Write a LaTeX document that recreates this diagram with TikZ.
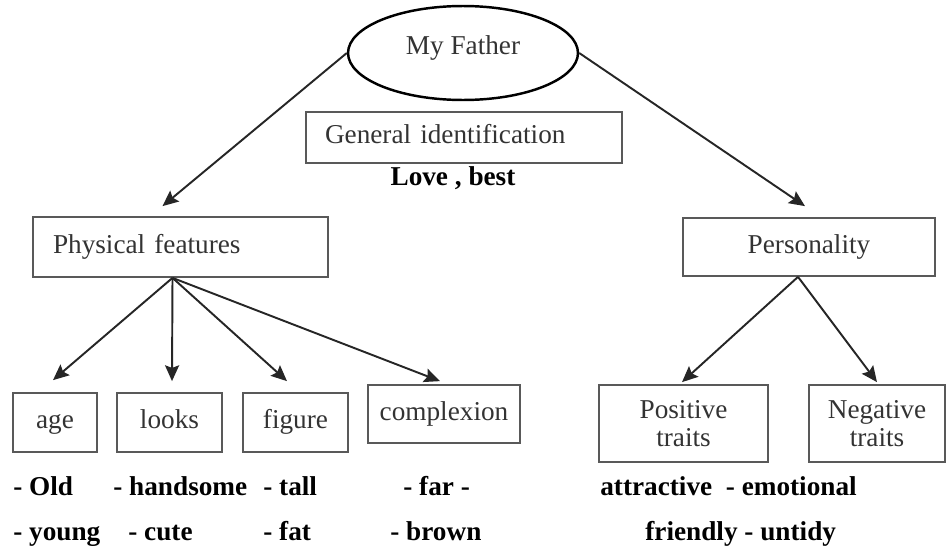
\documentclass[tikz,border=0pt]{standalone}
\usepackage{fontspec}
\setmainfont{Liberation Serif}
\usetikzlibrary{arrows.meta,positioning,shapes.geometric,calc}
\definecolor{boxgray}{gray}{0.35}
\definecolor{txtgray}{gray}{0.2}

\begin{document}
\begin{tikzpicture}[x=0.02cm,y=-0.02cm,
    box/.style={draw=boxgray,line width=1pt,text=txtgray,inner sep=0pt,align=center,
        text height=2.1ex,text depth=0.5ex,font=\fontsize{15.5}{16}\selectfont},
    word/.style={anchor=west,inner sep=0pt,text height=2.4ex,text depth=0.5ex,
        font=\fontsize{15.5}{16}\selectfont\bfseries},
    arr/.style={-{Stealth[length=9pt,width=8pt,inset=1.5pt]},line width=1.1pt,black!85}]
    \useasboundingbox (0,0) rectangle (946,548);

    % Top
    \node[ellipse,draw=black,line width=1.4pt,minimum width=4.6cm,minimum height=1.88cm,
        inner sep=0pt,text=txtgray,text height=1.6ex,text depth=1.3ex,
        font=\fontsize{15.5}{16}\selectfont] (father) at (463,53) {My Father};
    \node[box,minimum width=6.32cm,minimum height=1.02cm,text width=5.56cm,inner xsep=0.38cm,
        align=left] (genid) at (464,137.5) {General identification};
    \node[word,anchor=center] (love) at (453,178) {Love , best};

    % Second level
    \node[box,minimum width=5.9cm,minimum height=1.2cm,text width=5.1cm,inner xsep=0.4cm,
        align=left] (phys) at (180.5,247) {Physical features};
    \node[box,minimum width=5.04cm,minimum height=1.16cm] (pers) at (809,247) {Personality};

    % Physical features
    \node[box,minimum width=1.68cm,minimum height=1.18cm] (age) at (55,422.5) {age};
    \node[box,minimum width=2.1cm,minimum height=1.18cm] (looks) at (169.5,422.5) {looks};
    \node[box,minimum width=2.1cm,minimum height=1.18cm] (figure) at (295.5,422.5) {figure};
    \node[box,minimum width=3.04cm,minimum height=1.16cm] (complexion) at (444,414) {complexion};

    % Personality
    \node[box,minimum width=3.38cm,minimum height=1.54cm,text height=,text depth=] (positive)
        at (683.5,423.5) {Positive\\traits};
    \node[box,minimum width=2.72cm,minimum height=1.54cm,text height=,text depth=] (negative)
        at (877,423.5) {Negative\\traits};

    % Words
    \node[word] (old) at (13,488) {- Old};
    \node[word] (handsome) at (113,488) {- handsome};
    \node[word] (tall) at (263,488) {- tall};
    \node[word] (far) at (403,488) {- far -};
    \node[word] (young) at (13,533) {- young};
    \node[word] (cute) at (128,533) {- cute};
    \node[word] (fat) at (263,533) {- fat};
    \node[word] (brown) at (390,533) {- brown};
    \node[word] (attr) at (600,488) {attractive \ - emotional};
    \node[word] (friendly) at (645,533) {friendly - untidy};

    % Arrows
    \draw[arr] (father.west) -- ($(phys.north)+(-18,-10)$);
    \draw[arr] (father.east) -- ($(pers.north)+(-4,-11)$);
    \coordinate (pfroot) at ($(phys.south)+(-8,0)$);
    \draw[arr] (pfroot) -- ($(age.north)+(-2,-12)$);
    \draw[arr] (pfroot) -- ($(looks.north)+(2.5,-11)$);
    \draw[arr] (pfroot) -- ($(figure.north)+(-8.5,-11)$);
    \draw[arr] (pfroot) -- ($(complexion.north)+(-4,-3)$);
    \coordinate (proot) at ($(pers.south)+(-11,0)$);
    \draw[arr] (proot) -- ($(positive.north)+(-1.5,-2)$);
    \draw[arr] (proot) -- ($(negative.north)+(0,-2)$);

\end{tikzpicture}
\end{document}
